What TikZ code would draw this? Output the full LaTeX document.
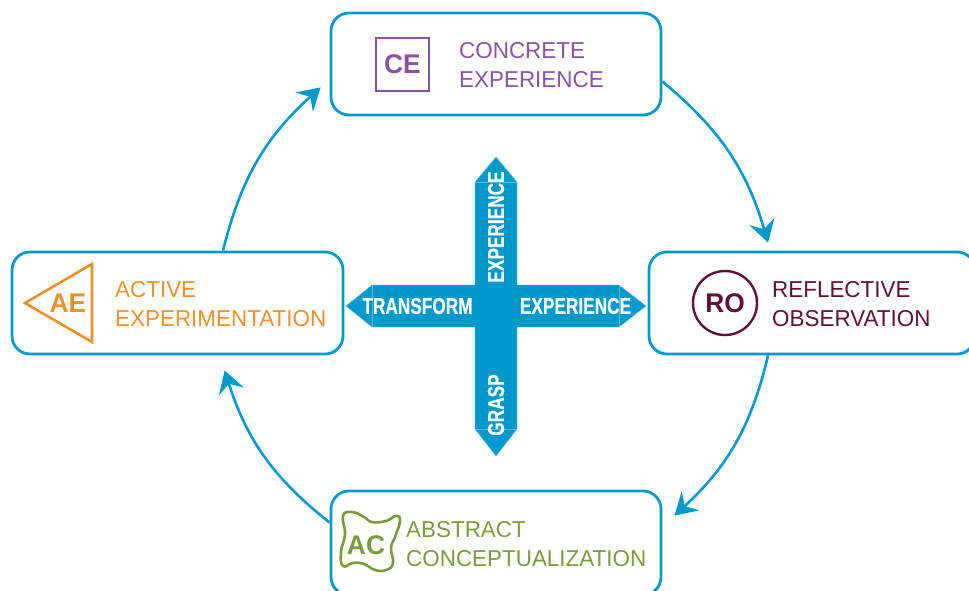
\documentclass[tikz,border=0pt]{standalone}
\usepackage{fontspec}
\setmainfont{Liberation Sans}[FakeStretch=0.975]
\newfontfamily\armfont{Liberation Sans}[FakeStretch=0.75, FakeBold=0.5]
\usetikzlibrary{positioning, arrows.meta, shapes.geometric, calc}
\definecolor{cycleblue}{HTML}{0099CC}
\definecolor{seamblue}{HTML}{55BBDD}
\definecolor{cepurple}{HTML}{8A52A2}
\definecolor{romaroon}{HTML}{5F0F38}
\definecolor{acgreen}{HTML}{7A9A3E}
\definecolor{aeorange}{HTML}{E8912D}

\begin{document}
\begin{tikzpicture}[x=1pt, y=-1pt,
    stagebox/.style={draw=cycleblue, line width=2.8pt, rounded corners=18pt, minimum width=330pt, minimum height=102pt},
    stagetext/.style={anchor=west, align=left, inner sep=0pt, font=\fontsize{23}{29}\selectfont},
    badge/.style={font=\fontsize{27}{27}\bfseries\selectfont, inner sep=0pt},
    flow/.style={draw=cycleblue, line width=2.6pt, -{Stealth[length=22pt, width=26pt, inset=8pt]}},
    armlabel/.style={text=white, inner sep=0pt, font=\armfont\fontsize{23}{23}\bfseries\selectfont}]
    \useasboundingbox (0,0) rectangle (969,590);

    % the four stages
    \node[stagebox] (ce) at (496,64) {};
    \node[stagebox, minimum width=326pt] (ro) at (812,303) {};
    \node[stagebox, minimum height=104pt] (ac) at (496,543) {};
    \node[stagebox, minimum width=331pt] (ae) at (177.5,303) {};

    \node[stagetext, text=cepurple] (cetext) at (459,65) {CONCRETE\\EXPERIENCE};
    \node[stagetext, text=romaroon] (rotext) at (772,304) {REFLECTIVE\\OBSERVATION};
    \node[stagetext, text=acgreen] (actext) at (406,544) {ABSTRACT\\CONCEPTUALIZATION};
    \node[stagetext, text=aeorange] (aetext) at (115,304) {ACTIVE\\EXPERIMENTATION};

    % badges
    \node[badge, draw=cepurple, text=cepurple, line width=2.6pt, minimum size=53pt] (cebadge) at (402.5,64.5) {CE};
    \node[badge, draw=romaroon, text=romaroon, line width=2.4pt, circle, minimum size=64pt] (robadge) at (725,303) {RO};
    \node[badge, text=acgreen] (acbadge) at (366,545) {AC};
    \node[badge, text=aeorange] (aebadge) at (68,303) {AE};
    \draw[aeorange, line width=2.6pt] (25,303) -- (92,264) -- (92,342) -- cycle;
    \draw[acgreen, line width=2.6pt] plot[smooth cycle, tension=0.8] coordinates {(343,516) (352,512) (364,517) (372,522) (386,521) (396,516) (400,521) (395,537) (391,548) (393,563) (386,570) (375,570) (364,564) (353,563) (343,566) (341,552) (345,534)};

    % the cycle
    \draw[flow] (ce.-6) to[bend left=17] ($(ro.130)+(0,-8)$);
    \draw[flow] (ro.230) to[bend left=17] ($(ac.10)+(12,2)$);
    \draw[flow] (ac.173) to[bend left=17] ($(ae.-48)+(0,15)$);
    \draw[flow] (ae.49) to[bend left=17] ($(ce.188)+(-9,0)$);

    % the cross
    \path[fill=cycleblue, draw=seamblue, line width=0.4pt] (475,182) -- (496,157) -- (517,182) -- (517,285) -- (619,285) -- (646,306) -- (619,327) -- (517,327) -- (517,429) -- (496,456) -- (475,429) -- (475,327) -- (372,327) -- (346,306) -- (372,285) -- (475,285) -- cycle;
    \draw[seamblue, line width=0.4pt] (475,182) -- (517,182) (475,429) -- (517,429) (372,285) -- (372,327) (619,285) -- (619,327);

    \node[armlabel, rotate=90] (upper) at (496,227) {EXPERIENCE};
    \node[armlabel, rotate=90] (lower) at (496,405) {GRASP};
    \node[armlabel] (left) at (417.5,306) {TRANSFORM};
    \node[armlabel] (right) at (575.5,306) {EXPERIENCE};
\end{tikzpicture}
\end{document}
